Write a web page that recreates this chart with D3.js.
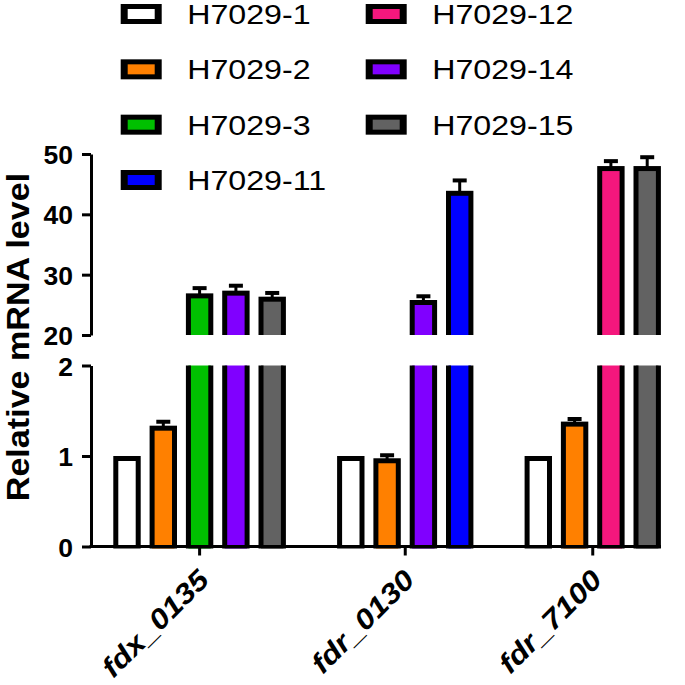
<!DOCTYPE html>
<html>
<head>
<meta charset="utf-8">
<script src="https://cdn.jsdelivr.net/npm/d3@7"></script>
<style>
  html, body { margin: 0; padding: 0; background: #fff; }
  svg { display: block; font-family: "Liberation Sans", Arial, sans-serif; }
</style>
</head>
<body>
<svg id="chart" width="685" height="685"></svg>
<script>
// ---------------- data ----------------
const genes = ["fdx_0135", "fdr_0130", "fdr_7100"];
const strains = ["H7029-1", "H7029-2", "H7029-3", "H7029-11", "H7029-12", "H7029-14", "H7029-15"];
const strainColors = ["#FFFFFF", "#FF8000", "#00C000", "#0000FF", "#F5177D", "#8000FF", "#626262"];
// strains shown in each gene group (in drawing order)
const fdx0135Strains = ["H7029-1", "H7029-2", "H7029-3", "H7029-14", "H7029-15"];
const fdx0135Values  = [1.0, 1.335, 26.9, 27.35, 26.35];
const fdx0135Errors  = [0, 0.065, 1.2, 1.15, 0.95];
const fdr0130Strains = ["H7029-1", "H7029-2", "H7029-14", "H7029-11"];
const fdr0130Values  = [1.0, 0.975, 25.8, 43.9];
const fdr0130Errors  = [0, 0.055, 0.95, 2.05];
const fdr7100Strains = ["H7029-1", "H7029-2", "H7029-12", "H7029-15"];
const fdr7100Values  = [1.0, 1.38, 48.0, 48.0];
const fdr7100Errors  = [0, 0.05, 1.15, 1.8];
const lowTicks  = [0, 1, 2];
const highTicks = [20, 30, 40, 50];
const yTitle = "Relative mRNA level";

// ---------------- build ----------------
const groups = [
  {gene: genes[0], strains: fdx0135Strains, values: fdx0135Values, errors: fdx0135Errors},
  {gene: genes[1], strains: fdr0130Strains, values: fdr0130Values, errors: fdr0130Errors},
  {gene: genes[2], strains: fdr7100Strains, values: fdr7100Values, errors: fdr7100Errors}
];
const color = d3.scaleOrdinal(strains, strainColors);

const gapSlots = 1.165;
const bars = [];
let slot = 0;
groups.forEach((g, gi) => {
  g.first = slot + gi * gapSlots;
  g.strains.forEach((s, i) => {
    bars.push({gene: g.gene, strain: s, value: g.values[i], err: g.errors[i], pos: slot + gi * gapSlots});
    slot++;
  });
  g.last = slot - 1 + gi * gapSlots;
});
const maxPos = d3.max(bars, d => d.pos);

const svg = d3.select("#chart");
const axisLeft = 91, axisRight = 661;
const x = d3.scaleLinear().domain([0, maxPos]).range([127, 647.2]);
const yLow = d3.scaleLinear().domain([0, 2]).range([546.5, 365.5]);
const yHigh = d3.scaleLinear().domain([20, 50]).range([335, 154]);

const barW = 27.4, sw = 5;

const defs = svg.append("defs");
defs.append("clipPath").attr("id", "clipLow").append("rect")
  .attr("x", 0).attr("y", yLow(2)).attr("width", 685).attr("height", yLow(0) - yLow(2) + 2);
defs.append("clipPath").attr("id", "clipHigh").append("rect")
  .attr("x", 0).attr("y", 0).attr("width", 685).attr("height", yHigh(20));

function drawPanel(y, clipId, baseVal) {
  const g = svg.append("g").attr("clip-path", `url(#${clipId})`);
  const base = y(baseVal);
  g.selectAll("rect.bar").data(bars).join("rect")
    .attr("class", "bar")
    .attr("x", d => x(d.pos) - barW / 2 + sw / 2)
    .attr("y", d => y(d.value) + sw / 2)
    .attr("width", barW - sw)
    .attr("height", d => Math.max(0, base - y(d.value) - sw / 2 + 3))
    .attr("fill", d => color(d.strain))
    .attr("stroke", "#000")
    .attr("stroke-width", sw);
  // error bars (upward only)
  const eb = bars.filter(d => d.err > 0);
  g.selectAll("line.stem").data(eb).join("line")
    .attr("class", "stem")
    .attr("x1", d => x(d.pos)).attr("x2", d => x(d.pos))
    .attr("y1", d => y(d.value) + 1).attr("y2", d => y(d.value + d.err) + 2)
    .attr("stroke", "#000").attr("stroke-width", 3);
  g.selectAll("line.cap").data(eb).join("line")
    .attr("class", "cap")
    .attr("x1", d => x(d.pos) - 7).attr("x2", d => x(d.pos) + 7)
    .attr("y1", d => y(d.value + d.err) + 2).attr("y2", d => y(d.value + d.err) + 2)
    .attr("stroke", "#000").attr("stroke-width", 4);
}
drawPanel(yLow, "clipLow", 0);
drawPanel(yHigh, "clipHigh", 0);

// ---------------- axes ----------------
function styleAxis(g) {
  g.selectAll("path.domain").attr("stroke", "#000").attr("stroke-width", 3);
  g.selectAll(".tick line").attr("stroke", "#000").attr("stroke-width", 3);
}
const gLow = svg.append("g").attr("transform", `translate(${axisLeft},0)`)
  .call(d3.axisLeft(yLow).tickValues(lowTicks).tickFormat(d3.format("d")).tickSize(9).tickSizeOuter(0).tickPadding(9));
const gHigh = svg.append("g").attr("transform", `translate(${axisLeft},0)`)
  .call(d3.axisLeft(yHigh).tickValues(highTicks).tickFormat(d3.format("d")).tickSize(9).tickSizeOuter(0).tickPadding(9));
[gLow, gHigh].forEach(g => {
  styleAxis(g);
  g.selectAll(".tick text")
    .attr("font-family", "'Liberation Sans', Arial, sans-serif")
    .attr("font-size", 26.5).attr("font-weight", "bold").attr("fill", "#000")
    .attr("dy", "0.36em");
});

// x axis
const xAxisScale = d3.scaleOrdinal(genes, groups.map(g => (x(g.first) + x(g.last)) / 2));
const gx = svg.append("g").attr("transform", `translate(0,${yLow(0)})`);
gx.append("line").attr("x1", axisLeft - 1.5).attr("x2", axisRight)
  .attr("y1", 0).attr("y2", 0).attr("stroke", "#000").attr("stroke-width", 3);
const xt = gx.selectAll("g.xtick").data(genes).join("g")
  .attr("class", "xtick")
  .attr("transform", d => `translate(${xAxisScale(d)},0)`);
xt.append("line").attr("y1", 0).attr("y2", 9).attr("stroke", "#000").attr("stroke-width", 3);
xt.append("text")
  .attr("transform", `translate(11,35) rotate(-45) scale(1.15,1)`)
  .attr("text-anchor", "end")
  .attr("font-size", 28).attr("font-weight", "bold").attr("font-style", "italic")
  .attr("fill", "#000")
  .text(d => d);

// y title
svg.append("text")
  .attr("transform", `translate(29,337) rotate(-90) scale(1.1,1)`)
  .attr("text-anchor", "middle")
  .attr("font-size", 31).attr("font-weight", "bold").attr("fill", "#000")
  .text(yTitle);

// ---------------- legend ----------------
const legendCols = [["H7029-1", "H7029-2", "H7029-3", "H7029-11"], ["H7029-12", "H7029-14", "H7029-15"]];
const legendX = [120.7, 365.7];
const rowY = d3.scaleLinear().domain([0, 3]).range([14, 180]);
legendCols.forEach((col, ci) => {
  const lg = svg.append("g");
  const items = lg.selectAll("g").data(col).join("g")
    .attr("transform", (d, i) => `translate(${legendX[ci]},${rowY(i)})`);
  items.append("rect").attr("x", 0).attr("y", -10).attr("width", 41).attr("height", 20).attr("fill", "#000");
  items.append("rect").attr("x", 7).attr("y", -5).attr("width", 27).attr("height", 10).attr("fill", d => color(d));
  items.append("text")
    .attr("transform", `translate(66.5,10) scale(1.17,1)`)
    .attr("font-size", 27.5).attr("fill", "#000")
    .text(d => d);
});
</script>
</body>
</html>
